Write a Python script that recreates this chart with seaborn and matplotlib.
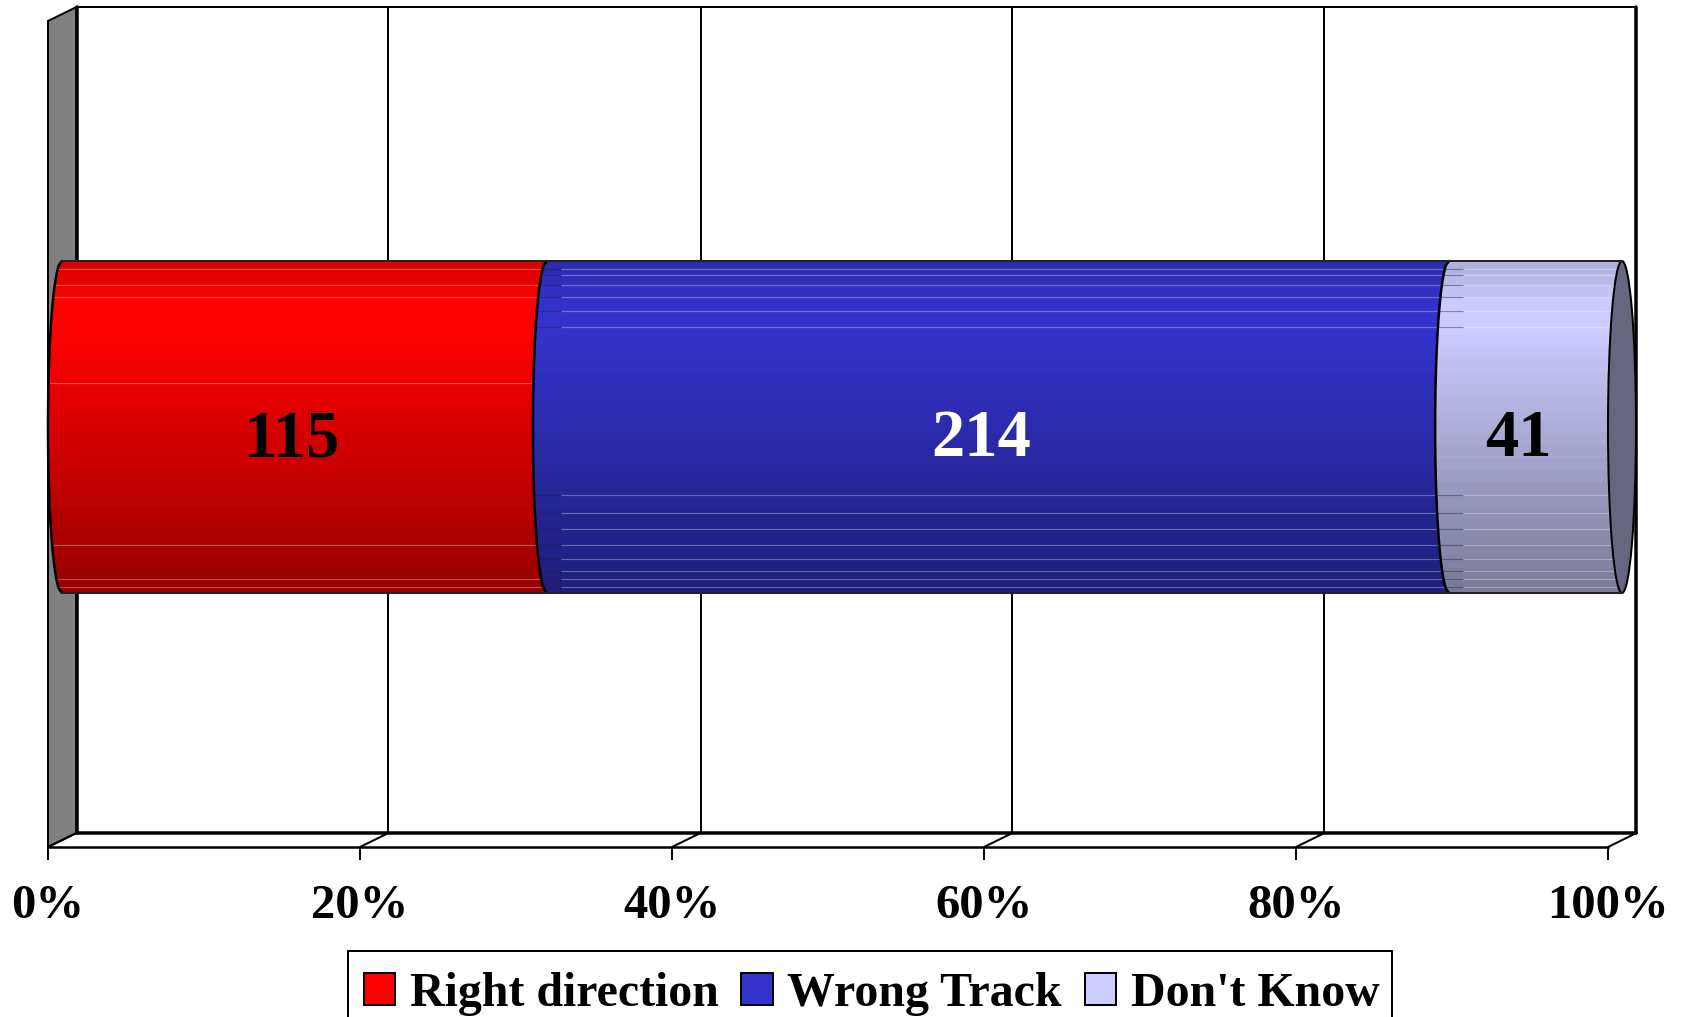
import numpy as np
import pandas as pd
import seaborn as sns
import matplotlib.pyplot as plt
from matplotlib.patches import Patch, PathPatch, Polygon, Ellipse, Rectangle
from matplotlib.path import Path
from matplotlib.ticker import PercentFormatter

# valores do grafico
labels = ["Right direction", "Wrong Track", "Don't Know"]
counts = [115, 214, 41]
colors = ["#FF0000", "#3333CC", "#CCCCFF"]
label_colors = ["black", "white", "black"]
tick_values = [0, 20, 40, 60, 80, 100]

# posicoes em pixels da figura
W, H = 1683, 1017
X0, X100 = 48, 1608
BAR_TOP, BAR_BOTTOM = 261, 593
FRONT_TOP, FRONT_BOTTOM = 21, 847
DEPTH_X, DEPTH_Y = 28.5, 14
CAP_PX = 14
LABEL_SHIFT_PX = [1, -3, -3]
STREAKS_PX = [269, 275, 285, 297, 311, 327, 495, 513, 529, 545, 559, 571, 579, 587]
RED_STREAKS_PX = [269, 285, 297, 383, 545, 579, 587]

percent = np.array(counts) / sum(counts) * 100
cumulative = np.cumsum(percent)
starts = cumulative - percent


def xd(px):
    return (px - X0) / (X100 - X0) * 100


def yd(py):
    return (py - (BAR_TOP + BAR_BOTTOM) / 2) / (BAR_BOTTOM - BAR_TOP)


dx = xd(X0 + DEPTH_X)
cap = xd(X0 + CAP_PX)


def px(n):
    # largura em pixels para pontos
    return n * 72 / 100


def curve(x0, ys):
    return x0 + cap * (1 - np.sqrt(np.clip(1 - (2 * ys) ** 2, 0, 1)))


sns.set_theme(style="white")
plt.rcParams['font.family'] = ['Liberation Serif', 'DejaVu Serif']
plt.rcParams['font.weight'] = 'bold'

fig = plt.figure(figsize=(W / 100, H / 100), dpi=100)
ax = fig.add_axes([0, 0, 1, 1])

# barras empilhadas: da acumulada maior para a menor
df = pd.DataFrame({'grupo': [''] * 3, 'acumulado': cumulative, 'serie': labels})
for i in [2, 1, 0]:
    sns.barplot(data=df.iloc[[i]], x='acumulado', y='grupo', orient='h', width=1,
                color=colors[i], saturation=1, ax=ax, zorder=3)

ax.set_xlim(xd(0), xd(W))
ax.set_ylim(yd(H), yd(0))

# parede e grade ao fundo
top_back = yd(FRONT_TOP - DEPTH_Y)
bottom_back = yd(FRONT_BOTTOM - DEPTH_Y)
top_front = yd(FRONT_TOP)
bottom_front = yd(FRONT_BOTTOM)
ax.add_patch(Polygon([(0, top_front), (dx, top_back), (dx, bottom_back), (0, bottom_front)],
                     facecolor='#808080', edgecolor='black', lw=px(2), zorder=1))
for t in tick_values:
    thick = 3.5 if t in (0, 100) else 2
    ax.plot([t + dx, t + dx], [top_back, bottom_back], color='black', lw=px(thick), zorder=1.5)
    ax.plot([t, t + dx], [bottom_front, bottom_back], color='black', lw=px(2), zorder=1.5)
ax.plot([dx, 100 + dx], [top_back, top_back], color='black', lw=px(2), zorder=1.5)
ax.plot([dx, 100 + dx], [bottom_back, bottom_back], color='black', lw=px(3.5), zorder=1.5)

# cilindro: cada trecho recebe o degrade em faixas
ys = np.linspace(-0.5, 0.5, 81)
rows = np.linspace(0, 1, 27)
shade = np.interp(rows, [0, 0.12, 0.2, 1], [0.87, 1, 1, 0.6])

for i, bar in enumerate(ax.patches[:3][::-1]):
    start, end = starts[i], cumulative[i]
    verts = np.vstack([np.column_stack([curve(start, ys), ys]),
                       np.column_stack([curve(end, ys), ys])[::-1]])
    shape = PathPatch(Path(np.vstack([verts, verts[0]])), facecolor='none', edgecolor='none',
                      transform=ax.transData, zorder=3.1)
    ax.add_patch(shape)
    bar.set_clip_path(shape)

    rgb = np.array(plt.matplotlib.colors.to_rgb(colors[i]))
    img = (shade[:, None] * rgb)[:, None, :]
    im = ax.imshow(img, extent=(start, end + cap, 0.5, -0.5), aspect='auto',
                   interpolation='nearest', zorder=3.2)
    im.set_clip_path(shape)

    streaks = RED_STREAKS_PX if i == 0 else STREAKS_PX
    for s in streaks:
        y = yd(s)
        left = curve(start, np.array([y]))[0]
        right = curve(end, np.array([y]))[0]
        if i == 0:
            line, = ax.plot([left, right], [y, y], color='white', alpha=0.3, lw=px(1.2), zorder=3.3)
            line.set_clip_path(shape)
        else:
            mid = start + xd(X0 + 28)
            dark, = ax.plot([left, mid], [y, y], color='#1A1A55', alpha=0.4, lw=px(1.2), zorder=3.3)
            dark.set_clip_path(shape)
            line, = ax.plot([mid, right], [y, y], color='white', alpha=0.3, lw=px(1.2), zorder=3.3)
            line.set_clip_path(shape)

# tampa direita e contornos
ax.add_patch(Ellipse((100 + cap, 0), 2 * cap, 1, facecolor='#666680', edgecolor='black',
                     lw=px(2), zorder=3.4))
for edge in [0] + list(cumulative[:-1]):
    ax.plot(curve(edge, ys), ys, color='black', lw=px(2.5), zorder=3.5)
ax.plot([cap, 100 + cap], [-0.5, -0.5], color='#222222', lw=px(2), zorder=3.5)
ax.plot([cap, 100 + cap], [0.5, 0.5], color='#222222', lw=px(2), zorder=3.5)

# rotulos das barras
for i, c in enumerate(counts):
    ax.text((starts[i] + cumulative[i]) / 2 + xd(X0 + LABEL_SHIFT_PX[i]), yd(440), str(c),
            color=label_colors[i], ha='center', va='center', fontsize=48, fontweight='bold', zorder=4)

# eixo x
for side in ['top', 'left', 'right']:
    ax.spines[side].set_visible(False)
ax.spines['bottom'].set_position(('data', bottom_front))
ax.spines['bottom'].set_bounds(0, 100)
ax.spines['bottom'].set_color('black')
ax.spines['bottom'].set_linewidth(px(2.5))
ax.spines['bottom'].set_zorder(2)
ax.set_xticks(tick_values)
ax.xaxis.set_major_formatter(PercentFormatter(100, decimals=0))
ax.tick_params(axis='x', bottom=True, length=px(13), width=px(2), color='black',
               labelsize=35, labelcolor='black', pad=px(24))
ax.set_yticks([])
ax.set_xlabel('')
ax.set_ylabel('')

# legenda: caixa desenhada a parte porque a borda de baixo sai da figura
fig.add_artist(Rectangle((348 / W, -20 / H), (1392 - 348) / W, (H - 951 + 20) / H, facecolor='white',
                         edgecolor='black', lw=px(2), transform=fig.transFigure))
handles = [Patch(facecolor=c, edgecolor='black', lw=px(2), label=l) for c, l in zip(colors, labels)]
leg = fig.legend(handles=handles, ncol=3, loc='upper left', bbox_to_anchor=(364 / W, 1 - 972 / H),
                 bbox_transform=fig.transFigure, frameon=False, borderaxespad=0, borderpad=0,
                 handlelength=0.65, handleheight=0.65, handletextpad=0.31, columnspacing=0.47,
                 labelcolor='black',
                 prop={'family': 'Liberation Serif', 'weight': 'bold', 'size': 34.5})

plt.savefig('out.png', dpi=100)
